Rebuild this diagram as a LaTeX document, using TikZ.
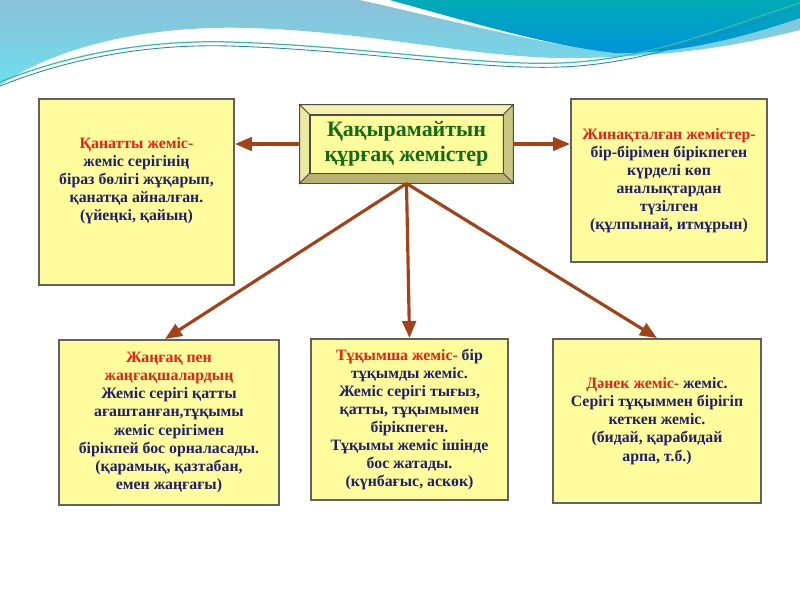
\documentclass[tikz,border=0pt]{standalone}
\usepackage{fontspec}
\setmainfont{Liberation Serif}
\definecolor{cardfill}{rgb}{1.00,0.99,0.62}
\definecolor{cardline}{rgb}{0.38,0.38,0.38}
\definecolor{linkbrown}{rgb}{0.64,0.26,0.10}
\definecolor{headred}{rgb}{0.92,0.12,0.08}
\definecolor{bodynavy}{rgb}{0.12,0.12,0.42}
\definecolor{hubgreen}{rgb}{0.08,0.42,0.08}
\definecolor{skylight}{rgb}{0.55,0.75,0.85}
\definecolor{skycyan}{rgb}{0.42,0.88,0.93}
\definecolor{blobteal}{rgb}{0.00,0.67,0.71}
\definecolor{blobblue}{rgb}{0.00,0.58,0.86}
\definecolor{waveline}{rgb}{0.20,0.75,0.65}
\usepackage{tikz}
\usetikzlibrary{arrows.meta,positioning}

\begin{document}
\begin{tikzpicture}[x=0.02cm, y=-0.02cm,
      card/.style={draw=cardline, line width=1.1pt, fill=cardfill,
                   align=center, inner sep=2pt,
                   font=\fontsize{9}{10.3}\selectfont\bfseries, text=bodynavy},
      hub/.style={draw=black!70, line width=0.5pt, fill=cardfill,
                  minimum width=3.86cm, minimum height=1.16cm, align=center,
                  font=\fontsize{12.5}{14.2}\selectfont\bfseries, text=hubgreen},
      bevel/.style={draw=black!70, line width=0.5pt},
      link/.style={-{Triangle[length=0.34cm, width=0.27cm]}, line width=1.8pt,
                   color=linkbrown}
  ]
    \useasboundingbox (0,0) rectangle (800,600);
    % header waves
    \shade[top color=skylight, bottom color=skycyan]
      (0,0) -- (800,0) -- (800,30)
      .. controls (740,45) and (680,56) .. (580,58)
      .. controls (480,60) and (380,32) .. (250,28)
      .. controls (150,25) and (60,45) .. (0,85) -- cycle;
    \fill[white] (360,0) -- (390,0)
      .. controls (470,22) and (550,46) .. (615,53)
      .. controls (540,44) and (450,20) .. (360,0) -- cycle;
    \shade[top color=blobteal, bottom color=blobblue]
      (390,0) -- (800,0) -- (800,18)
      .. controls (730,42) and (670,54) .. (615,53)
      .. controls (550,46) and (470,22) .. (390,0) -- cycle;
    \draw[waveline, line width=0.7pt]
      (0,82) .. controls (80,50) and (160,40) .. (230,42)
      .. controls (360,46) and (480,66) .. (560,63)
      .. controls (650,60) and (730,25) .. (800,3);
    \draw[waveline!70!blue, line width=0.5pt]
      (0,86) .. controls (80,54) and (160,44) .. (230,46)
      .. controls (360,50) and (480,70) .. (560,67)
      .. controls (650,64) and (730,29) .. (800,7);

    % central box with bevel frame
    \node[hub] (hub) at (406.5,144) {Қақырамайтын\\құрғақ жемістер};
    \path (hub.north west) ++(-0.2cm,0.2cm) coordinate (onw)
          (hub.north east) ++(0.2cm,0.2cm) coordinate (one)
          (hub.south east) ++(0.2cm,-0.2cm) coordinate (ose)
          (hub.south west) ++(-0.2cm,-0.2cm) coordinate (osw);
    \fill[bevel, fill={rgb,255:red,244;green,240;blue,176}]
      (onw) -- (one) -- (hub.north east) -- (hub.north west) -- cycle;
    \fill[bevel, fill={rgb,255:red,236;green,232;blue,160}]
      (onw) -- (hub.north west) -- (hub.south west) -- (osw) -- cycle;
    \fill[bevel, fill={rgb,255:red,204;green,198;blue,132}]
      (one) -- (ose) -- (hub.south east) -- (hub.north east) -- cycle;
    \fill[bevel, fill={rgb,255:red,184;green,178;blue,112}]
      (osw) -- (hub.south west) -- (hub.south east) -- (ose) -- cycle;
    \draw[bevel] (onw) rectangle (ose);
    \coordinate (hubw) at (onw |- hub.west);
    \coordinate (hube) at (one |- hub.east);
    \coordinate (hubs) at (osw -| hub.south);

    \node[card, minimum width=3.9cm, minimum height=3.72cm] (wing) at (136.5,192)
      {\textcolor{headred}{Қанатты жеміс-}\\жеміс серігінің\\біраз бөлігі жұқарып,\\қанатқа айналған.\\(үйеңкі, қайың)\\[0.5em]};
    \node[card, minimum width=3.92cm, minimum height=3.26cm] (cluster) at (669,180.5)
      {\textcolor{headred}{Жинақталған жемістер-}\\бір-бірімен бірікпеген\\күрделі көп\\аналықтардан\\түзілген\\(құлпынай, итмұрын)};
    \node[card, minimum width=4.4cm, minimum height=3.3cm] (nut) at (169,422.5)
      {\textcolor{headred}{Жаңғақ пен}\\\textcolor{headred}{жаңғақшалардың}\\Жеміс серігі қатты\\ағаштанған,тұқымы\\жеміс серігімен\\бірікпей бос орналасады.\\(қарамық, қазтабан,\\емен жаңғағы)};
    \node[card, minimum width=3.94cm, minimum height=3.22cm] (achene) at (409.5,419.5)
      {\textcolor{headred}{Тұқымша жеміс-} бір\\тұқымды жеміс.\\Жеміс серігі тығыз,\\қатты, тұқымымен\\бірікпеген.\\Тұқымы жеміс ішінде\\бос жатады.\\(күнбағыс, аскөк)};
    \node[card, minimum width=4.16cm, minimum height=3.28cm] (grain) at (657,421)
      {\textcolor{headred}{Дәнек жеміс-} жеміс.\\Серігі тұқыммен бірігіп\\кеткен жеміс.\\(бидай, қарабидай\\арпа, т.б.)};

    \draw[link] (hubw) -- (wing.east |- hubw);
    \draw[link] (hube) -- (cluster.west |- hube);
    \draw[link] (hubs) -- ([xshift=-0.08cm]nut.north);
    \draw[link] (hubs) -- (achene.north);
    \draw[link] (hubs) -- (grain.north);
  \end{tikzpicture}
\end{document}
